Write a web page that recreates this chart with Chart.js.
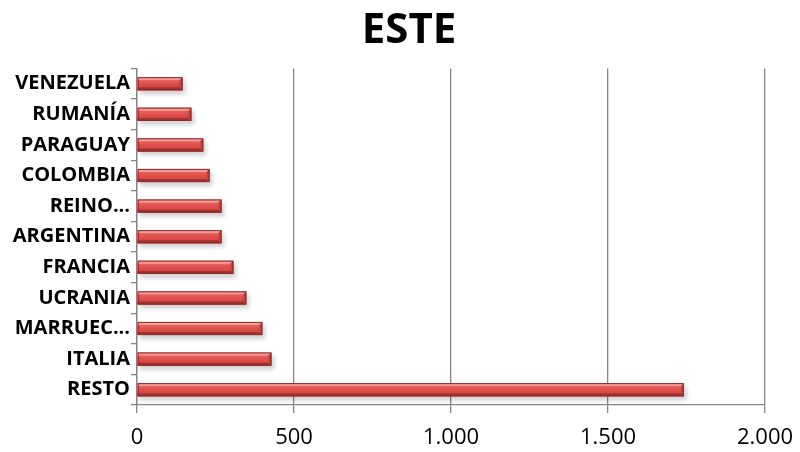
<!DOCTYPE html>
<html>
<head>
<meta charset="utf-8">
<script src="https://cdn.jsdelivr.net/npm/chart.js@4"></script>
<style>
  html, body { margin: 0; padding: 0; background: #fff; }
  #wrap { width: 800px; height: 452px; }
</style>
</head>
<body>
<div id="wrap"><canvas id="chart" width="800" height="452"></canvas></div>
<script>
// data (top to bottom)
var countries = ['VENEZUELA', 'RUMANÍA', 'PARAGUAY', 'COLOMBIA', 'REINO...', 'ARGENTINA', 'FRANCIA', 'UCRANIA', 'MARRUEC...', 'ITALIA', 'RESTO'];
var totals = [145, 173, 211, 231, 269, 269, 307, 348, 399, 428, 1742];
var xTicks = [0, 500, 1000, 1500, 2000];

function fmt(v) {
  // 1000 -> 1.000
  return String(v).replace(/\B(?=(\d{3})+(?!\d))/g, '.');
}

// shadow under the bars + bevel on top of them, like the office 3D bar preset
var bevel = {
  id: 'bevel',
  afterLayout: function (chart) {
    // title in the original sits a bit right of the page centre
    if (chart.titleBlock) chart.titleBlock.left += 18;
  },
  beforeDatasetsDraw: function (chart) {
    var c = chart.ctx;
    chart.getDatasetMeta(0).data.forEach(function (bar) {
      var p = bar.getProps(['x', 'y', 'base', 'height'], true);
      var top = p.y - p.height / 2;
      c.save();
      c.fillStyle = 'rgba(0,0,0,0.18)';
      c.filter = 'blur(2px)';
      c.fillRect(p.base + 2, top + 3, p.x - p.base + 1, p.height + 1);
      c.restore();
    });
  },
  afterDatasetsDraw: function (chart) {
    var c = chart.ctx;
    chart.getDatasetMeta(0).data.forEach(function (bar) {
      var p = bar.getProps(['x', 'y', 'base', 'height'], true);
      var l = p.base, r = p.x, t = p.y - p.height / 2, b = p.y + p.height / 2;
      var e = 3;
      c.save();
      var g = c.createLinearGradient(0, t, 0, b);
      g.addColorStop(0, '#ec716d');
      g.addColorStop(0.5, '#e0504c');
      g.addColorStop(1, '#cc403c');
      c.fillStyle = g;
      c.fillRect(l, t, r - l, b - t);
      // top edge
      c.fillStyle = '#f79d99';
      c.beginPath();
      c.moveTo(l, t); c.lineTo(r, t); c.lineTo(r - e, t + e); c.lineTo(l, t + e);
      c.closePath(); c.fill();
      // bottom edge
      c.fillStyle = '#a0322f';
      c.beginPath();
      c.moveTo(l, b); c.lineTo(r, b); c.lineTo(r - e, b - e); c.lineTo(l, b - e);
      c.closePath(); c.fill();
      // right end
      c.fillStyle = '#c6403c';
      c.beginPath();
      c.moveTo(r, t); c.lineTo(r, b); c.lineTo(r - e, b - e); c.lineTo(r - e, t + e);
      c.closePath(); c.fill();
      c.strokeStyle = '#8a2a28';
      c.lineWidth = 1;
      c.strokeRect(l + 0.5, t + 0.5, r - l - 1, b - t - 1);
      c.restore();
    });
  }
};

new Chart(document.getElementById('chart'), {
  type: 'bar',
  data: {
    labels: countries,
    datasets: [{
      data: totals,
      backgroundColor: '#d9534f',
      borderWidth: 0,
      barPercentage: 0.43,
      categoryPercentage: 1
    }]
  },
  plugins: [bevel],
  options: {
    indexAxis: 'y',
    responsive: false,
    animation: false,
    layout: { padding: { left: 0, right: 0, top: 0, bottom: 2 } },
    plugins: {
      legend: { display: false },
      tooltip: { enabled: false },
      title: {
        display: true,
        text: 'ESTE',
        color: '#000',
        font: { family: 'Open Sans', size: 42, weight: 'bold' },
        padding: { top: 6, bottom: 12 }
      }
    },
    scales: {
      x: {
        min: 0,
        max: 2000,
        afterBuildTicks: function (scale) {
          scale.ticks = xTicks.map(function (v) { return { value: v }; });
        },
        afterFit: function (scale) {
          scale.height = 45;
          scale.paddingRight = 35;
        },
        grid: { color: '#868686', lineWidth: 1.3, tickLength: 8 },
        border: { color: '#868686', width: 1.3 },
        ticks: {
          color: '#000',
          padding: 12,
          maxRotation: 0,
          font: { family: 'Open Sans', size: 22 },
          callback: function (v) { return fmt(v); }
        }
      },
      y: {
        afterFit: function (scale) { scale.width = 137; },
        grid: { drawOnChartArea: false, color: '#868686', tickLength: 6, offset: true, lineWidth: 1.3 },
        border: { color: '#868686', width: 1.3 },
        ticks: {
          color: '#000',
          padding: 1,
          font: { family: 'Open Sans', size: 20, weight: 'bold' }
        }
      }
    }
  }
});
</script>
</body>
</html>
